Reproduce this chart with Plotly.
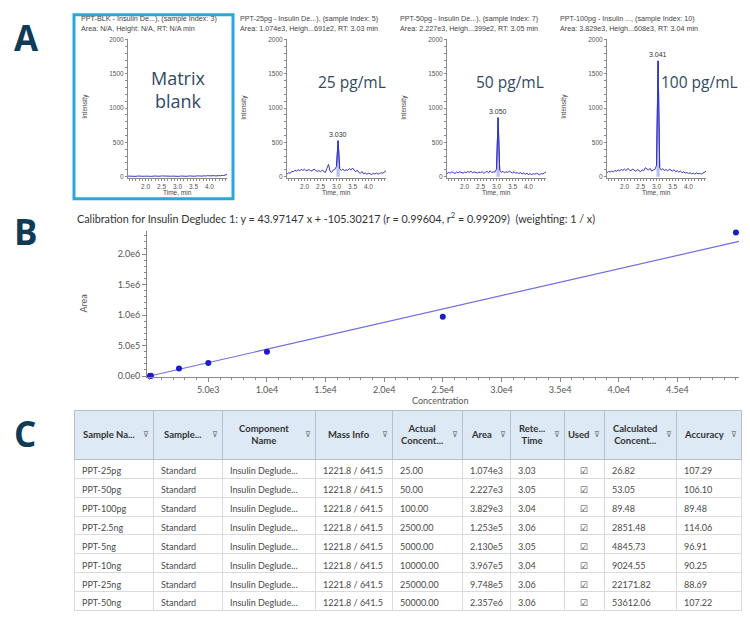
import plotly.graph_objects as go

W, H = 750, 623
def fx(x):
    return x / W
def fy(y):
    return 1 - y / H

# ---------------- DATA ----------------
TIME = [1.45, 1.50, 1.55, 1.60, 1.65, 1.70, 1.75, 1.80, 1.85, 1.90,
        1.95, 2.00, 2.05, 2.10, 2.15, 2.20, 2.25, 2.30, 2.35, 2.40,
        2.45, 2.50, 2.55, 2.60, 2.65, 2.70, 2.75, 2.80, 2.85, 2.90,
        2.95, 3.00, 3.05, 3.10, 3.15, 3.20, 3.25, 3.30, 3.35, 3.40,
        3.45, 3.50, 3.55, 3.60, 3.65, 3.70, 3.75, 3.80, 3.85, 3.90,
        3.95, 4.00, 4.05, 4.10, 4.15, 4.20, 4.25, 4.30, 4.35, 4.40,
        4.45, 4.50, 4.55]

BLANK = [8, 6, 10, 5, 7, 4, 9, 6, 3, 8,
         5, 7, 10, 6, 4, 8, 5, 9, 7, 3,
         6, 10, 8, 5, 7, 4, 9, 6, 8, 5,
         11, 7, 4, 9, 6, 12, 8, 5, 10, 7,
         13, 9, 6, 11, 15, 10, 8, 14, 12, 9,
         16, 11, 13, 18, 14, 10, 17, 15, 12, 20,
         16, 22, 32]
PG25 = [35, 55, 48, 78, 70, 95, 82, 100, 88, 105,
        92, 110, 85, 98, 104, 80, 95, 108, 90, 76,
        88, 70, 95, 82, 60, 120, 180, 75, 62, 98,
        105, 150, 524, 118, 90, 112, 85, 100, 92, 118,
        96, 125, 88, 70, 95, 62, 48, 75, 40, 55,
        35, 50, 42, 30, 48, 38, 52, 36, 45, 58,
        50, 72, 85]
PG50 = [45, 60, 52, 70, 58, 48, 66, 55, 72, 60,
        50, 68, 58, 75, 62, 80, 55, 70, 64, 52,
        66, 58, 72, 50, 62, 78, 55, 85, 60, 70,
        65, 110, 860, 95, 62, 78, 55, 72, 60, 80,
        66, 54, 72, 48, 60, 45, 58, 40, 52, 36,
        48, 32, 44, 30, 42, 35, 50, 38, 28, 45,
        40, 55, 70]
PG100 = [60, 75, 68, 82, 70, 90, 78, 98, 85, 104,
         92, 110, 88, 120, 100, 84, 112, 95, 78, 105,
         90, 72, 100, 85, 130, 110, 95, 122, 80, 98,
         105, 160, 1690, 130, 95, 118, 90, 105, 82, 110,
         95, 80, 102, 72, 88, 65, 80, 58, 70, 52,
         60, 45, 58, 40, 52, 36, 55, 42, 48, 38,
         50, 62, 78]

CHROMS = [BLANK, PG25, PG50, PG100]
HEAD1 = ["PPT-BLK - Insulin De...), (sample Index: 3)",
         "PPT-25pg - Insulin De...), (sample Index: 5)",
         "PPT-50pg - Insulin De...), (sample Index: 7)",
         "PPT-100pg - Insulin ..., (sample Index: 10)"]
HEAD2 = ["Area: N/A, Height: N/A, RT: N/A min",
         "Area: 1.074e3, Heigh...691e2, RT: 3.03 min",
         "Area: 2.227e3, Heigh...399e2, RT: 3.05 min",
         "Area: 3.829e3, Heigh...608e3, RT: 3.04 min"]
BIG_LABELS = ["Matrix<br>blank", "25 pg/mL", "50 pg/mL", "100 pg/mL"]
PEAK_LABELS = [None, "3.030", "3.050", "3.041"]
A_YTICKS = [0, 500, 1000, 1500, 2000]
A_XTICKS = [2.0, 2.5, 3.0, 3.5, 4.0]
A_XTEXT = ["2.0", "2.5", "3.0", "3.5", "4.0"]

CONC = [25, 50, 100, 2500, 5000, 10000, 25000, 50000]
AREA = [1074, 2227, 3829, 125300, 213000, 396700, 974800, 2357000]
SLOPE = 43.97147
INTERCEPT = -105.30217
B_XTICKS = [5000, 10000, 15000, 20000, 25000, 30000, 35000, 40000, 45000]
B_XTEXT = ["5.0e3", "1.0e4", "1.5e4", "2.0e4", "2.5e4", "3.0e4", "3.5e4", "4.0e4", "4.5e4"]
B_YTICKS = [0, 500000, 1000000, 1500000, 2000000]
B_YTEXT = ["0.0e0", "5.0e5", "1.0e6", "1.5e6", "2.0e6"]
B_TITLE = ("Calibration for Insulin Degludec 1: y = 43.97147 x + -105.30217 "
           "(r = 0.99604, r<sup>2</sup> = 0.99209)  (weighting: 1 / x)")

T_HEADERS = ["Sample Na...", "Sample...", "Component<br>Name", "Mass Info",
             "Actual<br>Concent...", "Area", "Rete...<br>Time", "Used",
             "Calculated<br>Concent...", "Accuracy"]
T_SAMPLE = ["PPT-25pg", "PPT-50pg", "PPT-100pg", "PPT-2.5ng", "PPT-5ng",
            "PPT-10ng", "PPT-25ng", "PPT-50ng"]
T_TYPE = ["Standard"] * 8
T_COMP = ["Insulin\u00a0Deglude..."] * 8
T_MASS = ["1221.8\u00a0/\u00a0641.5"] * 8
T_ACTUAL = ["25.00", "50.00", "100.00", "2500.00", "5000.00", "10000.00",
            "25000.00", "50000.00"]
T_AREA = ["1.074e3", "2.227e3", "3.829e3", "1.253e5", "2.130e5", "3.967e5",
          "9.748e5", "2.357e6"]
T_RT = ["3.03", "3.05", "3.04", "3.06", "3.05", "3.04", "3.06", "3.06"]
T_USED = ["\u2611"] * 8
T_CALC = ["26.82", "53.05", "89.48", "2851.48", "4845.73", "9024.55",
          "22171.82", "53612.06"]
T_ACC = ["107.29", "106.10", "89.48", "114.06", "96.91", "90.25", "88.69",
         "107.22"]

# ---------------- LAYOUT CONSTANTS ----------------
FONT = "Lato"
GRAY = "#555555"
AXC = "#8a8a8a"
LETTER_C = "#0f3b57"
LABEL_C = "#2f4b63"
A_LEFTS = [128, 287, 447, 607]
A_W = 99
A_TOP, A_BOT = 36, 177
LABEL_DX = [50, 65, 63, 92]
LABEL_Y = [87, 80, 80, 80]

fig = go.Figure()
ann = []
shapes = []

def note(x, y, text, size, color, family=FONT, xa="center", ya="middle", **kw):
    ann.append(dict(x=fx(x), y=fy(y), xref="paper", yref="paper", text=text,
                    showarrow=False, xanchor=xa, yanchor=ya,
                    font=dict(size=size, color=color, family=family), **kw))

for i, ser in enumerate(CHROMS):
    n = i + 1
    xa = "x" if n == 1 else f"x{n}"
    ya = "y" if n == 1 else f"y{n}"
    L = A_LEFTS[i]
    fig.add_trace(go.Scatter(x=TIME, y=ser, xaxis=xa, yaxis=ya, mode="lines",
                             line=dict(color="#3535c8", width=1), showlegend=False,
                             hoverinfo="skip"))
    if PEAK_LABELS[i]:
        k = ser.index(max(ser))
        fig.add_trace(go.Scatter(x=TIME[k - 1:k + 2], y=ser[k - 1:k + 2], xaxis=xa, yaxis=ya,
                                 mode="lines", fill="tozeroy", fillcolor="rgba(110,110,235,0.45)",
                                 line=dict(color="#3535c8", width=1), showlegend=False,
                                 hoverinfo="skip"))
        ann.append(dict(x=TIME[k], y=ser[k], xref=xa, yref=ya, text=PEAK_LABELS[i],
                        showarrow=False, xanchor="center", yanchor="bottom", yshift=1,
                        font=dict(size=7, color="#333", family="Liberation Sans")))
    axkw = dict(showline=True, linecolor=AXC, linewidth=1, ticks="outside", ticklen=2,
                tickcolor=AXC, tickfont=dict(size=6.5, color=GRAY, family="Liberation Sans"),
                showgrid=False, zeroline=False)
    fig.layout[f"xaxis{'' if n == 1 else n}"] = dict(
        domain=[fx(L), fx(L + A_W)], range=[1.45, 4.55], anchor=ya,
        tickvals=A_XTICKS, ticktext=A_XTEXT,
        minor=dict(dtick=0.1, ticklen=1.5, tickcolor=AXC, ticks="outside"), **axkw)
    fig.layout[f"yaxis{'' if n == 1 else n}"] = dict(
        domain=[fy(A_BOT), fy(A_TOP)], range=[-20, 2015], anchor=xa,
        tickvals=A_YTICKS, minor=dict(dtick=100, ticklen=2, tickcolor=AXC, ticks="outside"),
        **axkw)
    note(L - 49, 16, HEAD1[i], 7.2, "#444", "Liberation Sans", xa="left")
    note(L - 49, 26, HEAD2[i], 7.2, "#444", "Liberation Sans", xa="left")
    note(L - 43, 105, "Intensity", 6.5, "#444", "Liberation Sans", textangle=-90)
    note(L + A_W / 2, 191.5, "Time, min", 6.5, "#444", "Liberation Sans")
    note(L + LABEL_DX[i], LABEL_Y[i], BIG_LABELS[i], 18 if i == 0 else 15.5, LABEL_C,
         "Open Sans")

# frame around matrix blank
shapes.append(dict(type="rect", xref="paper", yref="paper", x0=fx(74), x1=fx(233),
                   y0=fy(198), y1=fy(12), line=dict(color="#2aa8d8", width=3)))

# ---------------- PANEL B ----------------
x_line = [0, 50260]
y_line = [SLOPE * v + INTERCEPT for v in x_line]
fig.add_trace(go.Scatter(x=x_line, y=y_line, xaxis="x5", yaxis="y5", mode="lines",
                         line=dict(color="#6e6ee0", width=1.2), showlegend=False,
                         hoverinfo="skip"))
fig.add_trace(go.Scatter(x=CONC, y=AREA, xaxis="x5", yaxis="y5", mode="markers",
                         marker=dict(color="#1c1cc8", size=6), showlegend=False,
                         cliponaxis=False))
bkw = dict(showline=True, linecolor=AXC, linewidth=1, ticks="outside", ticklen=4,
           tickcolor=AXC, tickfont=dict(size=9, color=GRAY, family=FONT),
           showgrid=False, zeroline=False)
fig.layout["xaxis5"] = dict(domain=[fx(147), fx(739)], range=[-230, 50260], anchor="y5",
                            tickvals=B_XTICKS, ticktext=B_XTEXT,
                            minor=dict(dtick=1000, ticklen=2, tickcolor=AXC, ticks="outside"),
                            **bkw)
fig.layout["yaxis5"] = dict(domain=[fy(378.5), fy(230.6)], range=[-20000, 2380000],
                            anchor="x5", tickvals=B_YTICKS, ticktext=B_YTEXT,
                            minor=dict(dtick=100000, ticklen=2, tickcolor=AXC, ticks="outside"),
                            **bkw)
note(75, 217, B_TITLE, 10.8, "#333", xa="left")
note(84, 304, "Area", 9, GRAY, textangle=-90)
note(440, 402, "Concentration", 9, GRAY)

# ---------------- PANEL C (table) ----------------
COLW = [79, 69, 93, 77, 70, 48, 54, 40, 72, 65]
T_LEFT, T_RIGHT, T_TOP, T_HEAD_BOT = 74, 741, 412, 461
ROW_H = 18.9
cols = [T_SAMPLE, T_TYPE, T_COMP, T_MASS, T_ACTUAL, T_AREA, T_RT, T_USED, T_CALC, T_ACC]
aligns = ["left"] * 7 + ["center"] + ["left"] * 2
fig.add_trace(go.Table(
    domain=dict(x=[fx(T_LEFT), fx(T_RIGHT)], y=[fy(T_HEAD_BOT + ROW_H * 8 + 4), fy(T_TOP)]),
    columnwidth=COLW,
    header=dict(values=[""] * 10, height=T_HEAD_BOT - T_TOP, fill_color="#dde9f5",
                line=dict(color="#b4c0cc", width=1)),
    cells=dict(values=cols, height=ROW_H, align=aligns, fill_color="white",
               line=dict(color="#dadada", width=1),
               font=dict(size=9, color="#4a4a4a", family=FONT)),
))
xl = T_LEFT
for h, w in zip(T_HEADERS, COLW):
    note(xl + w / 2 - 5, (T_TOP + T_HEAD_BOT) / 2, f"<b>{h}</b>", 9.5, "#333")
    note(xl + w - 7, (T_TOP + T_HEAD_BOT) / 2, "\u22bd", 8, "#777", "DejaVu Sans")
    xl += w

# panel letters
for letter, (lx, ly) in zip(["A", "B", "C"], [(26, 35), (26, 231), (25, 435)]):
    note(lx, ly, f"<b>{letter}</b>", 35, LETTER_C, "Open Sans")

fig.update_layout(width=W, height=H, margin=dict(l=0, r=0, t=0, b=0),
                  paper_bgcolor="white", plot_bgcolor="white",
                  annotations=ann, shapes=shapes, font=dict(family=FONT))
fig.write_html("out.html", config={"displayModeBar": False},
               post_script="document.body.style.margin='0';")
